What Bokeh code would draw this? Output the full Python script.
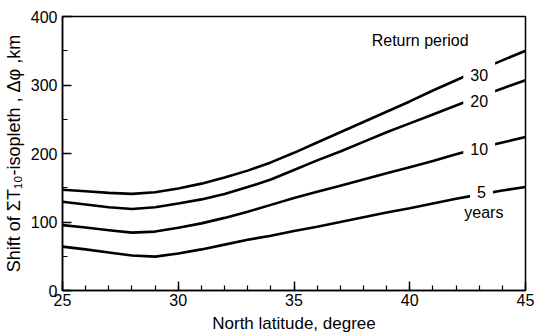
from bokeh.plotting import figure
from bokeh.models import Range1d, Label, SingleIntervalTicker
from bokeh.embed import file_html
from bokeh.resources import INLINE

# North latitude (degree)
latitude = [25, 26, 27, 28, 29, 30, 31, 32, 33, 34, 35,
            36, 37, 38, 39, 40, 41, 42, 43, 44, 45]

# Shift of the isopleth (km) for each return period (years)
shift_30 = [147, 145, 142.5, 141, 143.5, 149, 156, 165, 175, 187, 201,
            216, 231, 246, 261, 276, 292, 307, 322, 336, 350]
shift_20 = [129.5, 125.5, 121.5, 119, 121.5, 127, 133, 141, 151, 162, 176,
            190, 203, 217, 231, 244, 257, 270, 283, 295, 307]
shift_10 = [95.5, 92, 88, 84.5, 86, 91.5, 98, 106, 115, 125, 135,
            144, 153, 162, 171, 180, 189, 199, 208, 216, 224]
shift_5 = [64, 60, 55.5, 51, 49.5, 54, 60, 67, 74, 80, 87,
           93, 100, 107, 114, 120, 127, 134, 140, 146, 151]

series = [("30", shift_30, 43.0, 315), ("20", shift_20, 43.0, 276),
          ("10", shift_10, 43.0, 206), ("5", shift_5, 43.1, 144)]

FONT = "Liberation Sans"

p = figure(width=534, height=335, output_backend="svg", toolbar_location=None,
           x_range=Range1d(25, 45), y_range=Range1d(0, 400),
           min_border_left=62, min_border_right=9,
           min_border_top=16, min_border_bottom=42)

p.xgrid.visible = False
p.ygrid.visible = False
p.outline_line_color = "black"
p.outline_line_width = 1.5
p.background_fill_color = "white"
p.border_fill_color = "white"

for name, vals, lx, ly in series:
    p.line(latitude, vals, line_width=2.6, line_color="black",
           line_join="round", line_cap="round")

# period labels sit in a white box that breaks each curve
for name, vals, lx, ly in series:
    p.add_layout(Label(x=lx, y=ly, text=name, text_align="center",
                       text_baseline="middle", text_font=FONT,
                       text_font_size="16px", text_color="black",
                       background_fill_color="white", padding=7))

p.add_layout(Label(x=43.2, y=114, text="years", text_align="center",
                   text_baseline="middle", text_font=FONT,
                   text_font_size="16px", text_color="black"))
p.add_layout(Label(x=40.45, y=365, text="Return period", text_align="center",
                   text_baseline="middle", text_font=FONT,
                   text_font_size="16px", text_color="black"))

p.xaxis.ticker = SingleIntervalTicker(interval=5, num_minor_ticks=5)
p.yaxis.ticker = SingleIntervalTicker(interval=100, num_minor_ticks=2)

for ax in (p.xaxis, p.yaxis):
    ax.axis_line_width = 1.5
    ax.axis_line_color = "black"
    ax.major_tick_line_color = "black"
    ax.minor_tick_line_color = "black"
    ax.major_tick_line_width = 1.5
    ax.minor_tick_line_width = 1.2
    ax.major_tick_out = 0
    ax.minor_tick_out = 0
    ax.major_label_text_font = FONT
    ax.major_label_text_font_size = "16px"
    ax.major_label_text_color = "black"
    ax.axis_label_text_font = FONT
    ax.axis_label_text_font_style = "normal"
    ax.axis_label_text_color = "black"

p.xaxis.axis_label_text_font_size = "17px"
p.yaxis.axis_label_text_font_size = "18px"

p.xaxis.major_tick_in = 9
p.xaxis.minor_tick_in = 5
p.yaxis.major_tick_in = 9
p.yaxis.minor_tick_in = 5

p.xaxis.axis_label = "North latitude, degree"
p.yaxis.axis_label = "Shift of ΣT₁₀-isopleth , Δφ ,km"
p.xaxis.major_label_standoff = 3
p.xaxis.axis_label_standoff = 5
p.yaxis.major_label_standoff = 5
p.yaxis.axis_label_standoff = 4

open("out.html", "w").write(file_html(p, INLINE))
